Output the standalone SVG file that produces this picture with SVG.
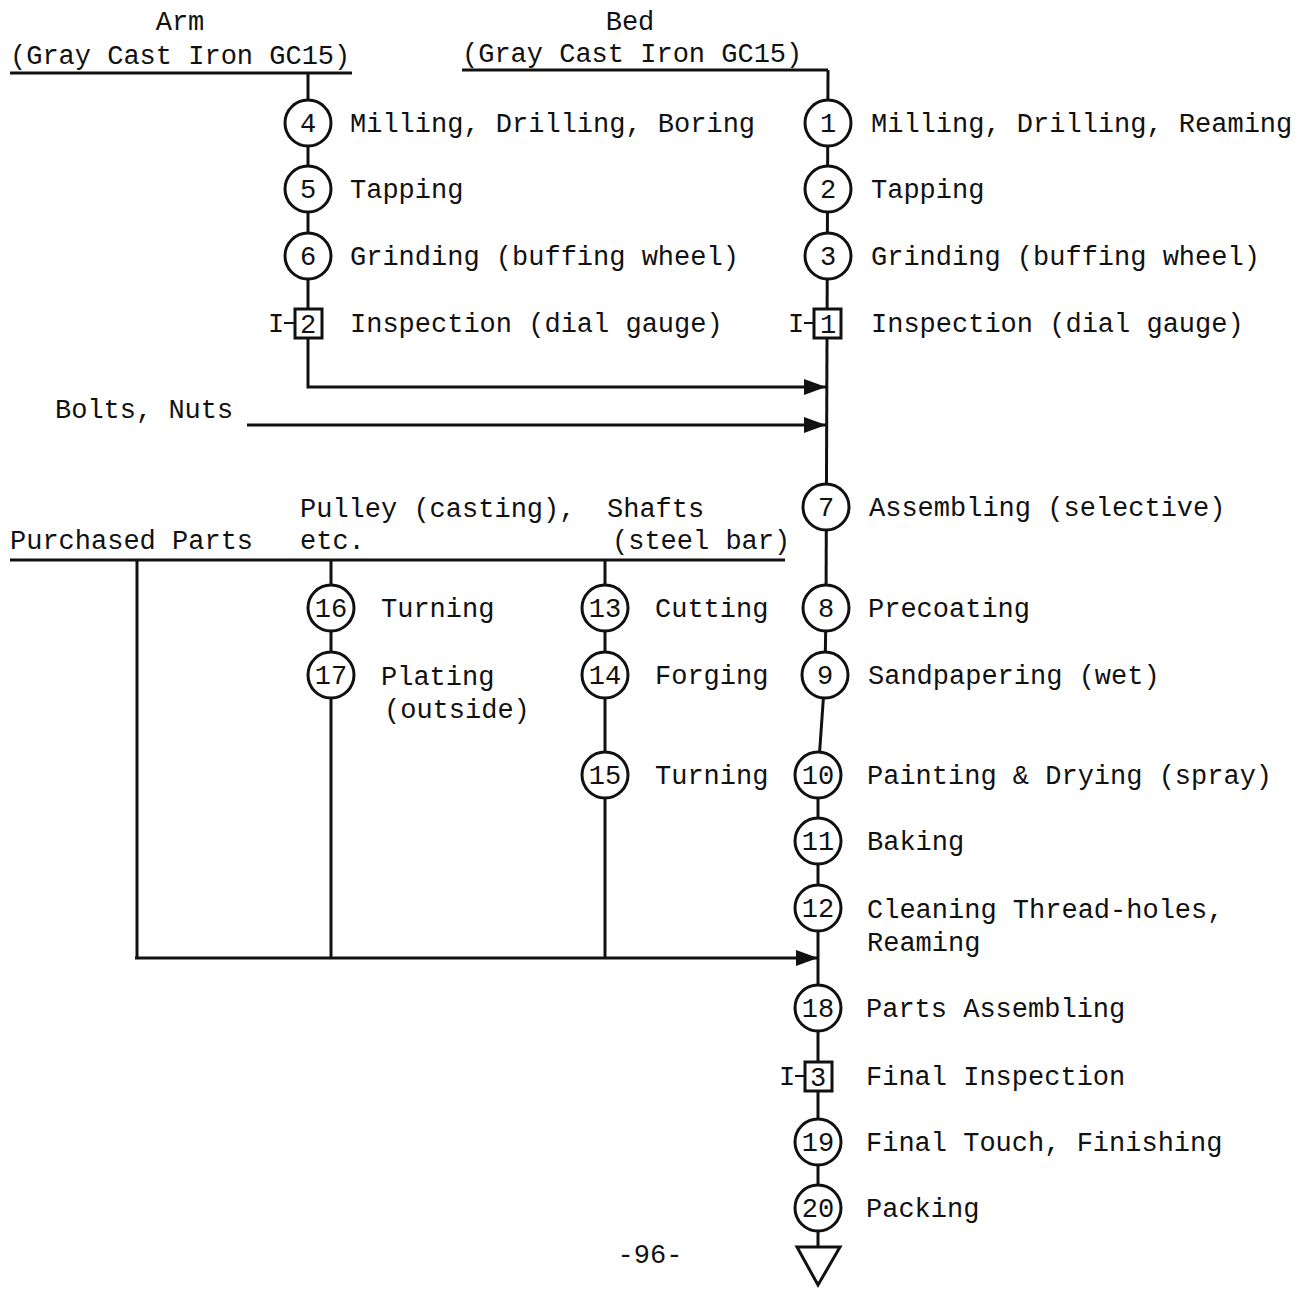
<svg xmlns="http://www.w3.org/2000/svg" width="1307" height="1291" viewBox="0 0 1307 1291">
<style>
text{font-family:"Liberation Mono","Courier New",monospace;font-size:27px;fill:#111}
.n{font-size:27px;text-anchor:middle}
.c{fill:#fff;stroke:#111;stroke-width:3}
.l{stroke:#111;stroke-width:3;fill:none}
</style>
<defs>
<marker id="ah2" viewBox="0 0 22 16" refX="22" refY="8" markerWidth="22" markerHeight="16" orient="auto" markerUnits="userSpaceOnUse"><path d="M0,0 L22,8 L0,16 Z" fill="#111"/></marker>
</defs>
<rect width="1307" height="1291" fill="#fff"/>
<g id="connectors">
<line class="l" x1="10" y1="73" x2="352" y2="73"/>
<line class="l" x1="462" y1="70" x2="828" y2="70"/>
<polyline class="l" points="308,73 308,387 826,387" marker-end="url(#ah2)"/>
<line class="l" x1="828" y1="70" x2="826" y2="608"/>
<line class="l" x1="247" y1="425" x2="826" y2="425" marker-end="url(#ah2)"/>
<line class="l" x1="826" y1="608" x2="825" y2="675"/>
<line class="l" x1="825" y1="675" x2="818" y2="775"/>
<line class="l" x1="818" y1="775" x2="818" y2="1247"/>
<line class="l" x1="10" y1="560" x2="785" y2="560"/>
<line class="l" x1="137" y1="560" x2="137" y2="958"/>
<line class="l" x1="331" y1="560" x2="331" y2="958"/>
<line class="l" x1="605" y1="560" x2="605" y2="958"/>
<line class="l" x1="135" y1="958" x2="818" y2="958" marker-end="url(#ah2)"/>
</g>
<g id="headers">
<text x="180" y="30" text-anchor="middle">Arm</text>
<text x="10" y="64">(Gray Cast Iron GC15)</text>
<text x="630" y="30" text-anchor="middle">Bed</text>
<text x="462" y="62">(Gray Cast Iron GC15)</text>
<text x="55" y="418">Bolts, Nuts</text>
<text x="300" y="517">Pulley (casting),</text>
<text x="607" y="517">Shafts</text>
<text x="10" y="549">Purchased Parts</text>
<text x="300" y="549">etc.</text>
<text x="612" y="549">(steel bar)</text>
<text x="650" y="1263" text-anchor="middle">-96-</text>
</g>
<g id="op4"><circle class="c" cx="308" cy="123" r="23"/><text class="n" x="308" y="132">4</text><text x="350" y="132">Milling, Drilling, Boring</text></g>
<g id="op5"><circle class="c" cx="308" cy="189" r="23"/><text class="n" x="308" y="198">5</text><text x="350" y="198">Tapping</text></g>
<g id="op6"><circle class="c" cx="308" cy="256" r="23"/><text class="n" x="308" y="265">6</text><text x="350" y="265">Grinding (buffing wheel)</text></g>
<g id="insp2"><rect class="c" x="295" y="309" width="27" height="29"/><text class="n" x="308" y="333">2</text><text x="268" y="332">I</text><line class="l" x1="284" y1="323" x2="295" y2="323" style="stroke-width:2"/><text x="350" y="332">Inspection (dial gauge)</text></g>
<g id="op1"><circle class="c" cx="828" cy="123" r="23"/><text class="n" x="828" y="132">1</text><text x="871" y="132">Milling, Drilling, Reaming</text></g>
<g id="op2"><circle class="c" cx="828" cy="189" r="23"/><text class="n" x="828" y="198">2</text><text x="871" y="198">Tapping</text></g>
<g id="op3"><circle class="c" cx="828" cy="256" r="23"/><text class="n" x="828" y="265">3</text><text x="871" y="265">Grinding (buffing wheel)</text></g>
<g id="insp1"><rect class="c" x="814" y="309" width="27" height="29"/><text class="n" x="828" y="333">1</text><text x="788" y="332">I</text><line class="l" x1="804" y1="323" x2="814" y2="323" style="stroke-width:2"/><text x="871" y="332">Inspection (dial gauge)</text></g>
<g id="op7"><circle class="c" cx="826" cy="507" r="23"/><text class="n" x="826" y="516">7</text><text x="869" y="516">Assembling (selective)</text></g>
<g id="op8"><circle class="c" cx="826" cy="608" r="23"/><text class="n" x="826" y="617">8</text><text x="868" y="617">Precoating</text></g>
<g id="op9"><circle class="c" cx="825" cy="675" r="23"/><text class="n" x="825" y="684">9</text><text x="868" y="684">Sandpapering (wet)</text></g>
<g id="op10"><circle class="c" cx="818" cy="775" r="23"/><text class="n" x="818" y="784">10</text><text x="867" y="784">Painting &amp; Drying (spray)</text></g>
<g id="op11"><circle class="c" cx="818" cy="841" r="23"/><text class="n" x="818" y="850">11</text><text x="867" y="850">Baking</text></g>
<g id="op12"><circle class="c" cx="818" cy="908" r="23"/><text class="n" x="818" y="917">12</text><text x="867" y="918">Cleaning Thread-holes,</text><text x="867" y="951">Reaming</text></g>
<g id="op18"><circle class="c" cx="818" cy="1008" r="23"/><text class="n" x="818" y="1017">18</text><text x="866" y="1017">Parts Assembling</text></g>
<g id="insp3"><rect class="c" x="805" y="1062" width="27" height="29"/><text class="n" x="818" y="1086">3</text><text x="779" y="1085">I</text><line class="l" x1="795" y1="1076" x2="805" y2="1076" style="stroke-width:2"/><text x="866" y="1085">Final Inspection</text></g>
<g id="op19"><circle class="c" cx="818" cy="1142" r="23"/><text class="n" x="818" y="1151">19</text><text x="866" y="1151">Final Touch, Finishing</text></g>
<g id="op20"><circle class="c" cx="818" cy="1208" r="23"/><text class="n" x="818" y="1217">20</text><text x="866" y="1217">Packing</text></g>
<g id="store"><polygon class="c" points="797,1247 840,1247 818,1285"/></g>
<g id="op16"><circle class="c" cx="331" cy="608" r="23"/><text class="n" x="331" y="617">16</text><text x="381" y="617">Turning</text></g>
<g id="op17"><circle class="c" cx="331" cy="675" r="23"/><text class="n" x="331" y="684">17</text><text x="381" y="685">Plating</text><text x="384" y="718">(outside)</text></g>
<g id="op13"><circle class="c" cx="605" cy="608" r="23"/><text class="n" x="605" y="617">13</text><text x="655" y="617">Cutting</text></g>
<g id="op14"><circle class="c" cx="605" cy="675" r="23"/><text class="n" x="605" y="684">14</text><text x="655" y="684">Forging</text></g>
<g id="op15"><circle class="c" cx="605" cy="775" r="23"/><text class="n" x="605" y="784">15</text><text x="655" y="784">Turning</text></g>
</svg>
